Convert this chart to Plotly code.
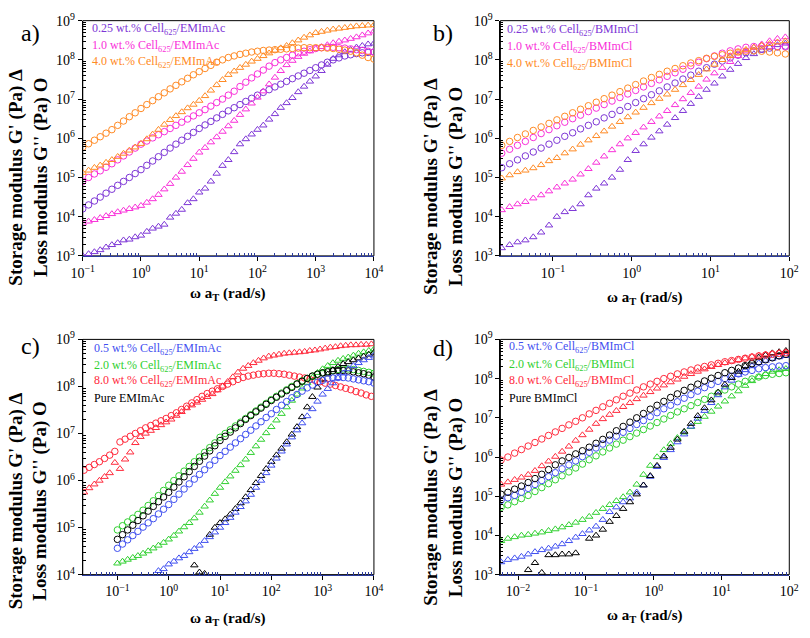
import plotly.graph_objects as go

# ---------------- data (log10 of frequency and modulus) ----------------
A_X = [-1.0,-0.9,-0.8,-0.7,-0.6,-0.5,-0.4,-0.3,-0.2,-0.1,0.0,0.1,0.2,0.3,0.4,0.5,0.6,0.7,0.8,0.9,1.0,1.1,1.2,1.3,1.4,1.5,1.6,1.7,1.8,1.9,2.0,2.1,2.2,2.3,2.4,2.5,2.6,2.7,2.8,2.9,3.0,3.1,3.2,3.3,3.4,3.5,3.6,3.7,3.8,3.9,4.0]
A_P025_GPP = [4.20,4.30,4.40,4.50,4.60,4.70,4.80,4.90,5.00,5.10,5.20,5.31,5.42,5.53,5.64,5.75,5.85,5.95,6.05,6.15,6.25,6.34,6.43,6.52,6.61,6.70,6.78,6.86,6.94,7.02,7.10,7.17,7.24,7.31,7.38,7.45,7.52,7.59,7.66,7.73,7.80,7.87,7.94,8.00,8.05,8.10,8.13,8.16,8.18,8.19,8.20]
A_P025_GP = [3.00,3.05,3.10,3.15,3.22,3.28,3.33,3.40,3.42,3.48,3.52,3.62,3.70,3.75,3.80,3.98,4.08,4.18,4.35,4.45,4.62,4.72,4.90,5.10,5.30,5.45,5.65,5.85,5.98,6.10,6.22,6.33,6.48,6.62,6.78,6.90,7.03,7.18,7.32,7.45,7.58,7.72,7.88,8.03,8.12,8.20,8.26,8.32,8.36,8.40,8.42]
A_P10_GPP = [4.90,5.00,5.09,5.17,5.26,5.35,5.45,5.55,5.65,5.75,5.85,5.93,6.01,6.09,6.17,6.25,6.33,6.41,6.49,6.57,6.65,6.73,6.82,6.91,7.00,7.10,7.20,7.32,7.43,7.54,7.64,7.74,7.84,7.93,8.00,8.06,8.12,8.18,8.22,8.26,8.29,8.31,8.32,8.32,8.31,8.30,8.28,8.26,8.24,8.22,8.20]
A_P10_GP = [3.83,3.88,3.92,3.97,4.02,4.07,4.12,4.16,4.20,4.24,4.28,4.36,4.45,4.56,4.70,4.84,5.00,5.15,5.32,5.48,5.64,5.76,5.90,6.03,6.17,6.31,6.45,6.60,6.74,6.89,7.04,7.20,7.38,7.55,7.72,7.87,7.98,8.08,8.16,8.22,8.28,8.33,8.38,8.43,8.47,8.50,8.54,8.58,8.63,8.68,8.73]
A_P40_GPP = [5.77,5.86,5.95,6.04,6.13,6.22,6.33,6.44,6.55,6.65,6.76,6.86,6.96,7.06,7.16,7.26,7.35,7.44,7.53,7.62,7.70,7.78,7.86,7.94,8.00,8.06,8.10,8.14,8.17,8.20,8.22,8.24,8.25,8.26,8.27,8.28,8.29,8.30,8.31,8.31,8.31,8.31,8.30,8.29,8.27,8.25,8.22,8.18,8.12,8.06,8.02]
A_P40_GP = [5.12,5.18,5.25,5.31,5.38,5.45,5.53,5.61,5.69,5.77,5.86,5.98,6.10,6.22,6.35,6.47,6.57,6.67,6.77,6.86,6.96,7.08,7.22,7.36,7.49,7.62,7.71,7.80,7.88,7.96,8.03,8.10,8.17,8.24,8.30,8.36,8.43,8.50,8.57,8.63,8.69,8.72,8.75,8.78,8.80,8.82,8.84,8.86,8.87,8.88,8.89]

B_X = [-1.65,-1.55,-1.45,-1.35,-1.25,-1.15,-1.05,-0.95,-0.85,-0.75,-0.65,-0.55,-0.45,-0.35,-0.25,-0.15,-0.05,0.05,0.15,0.25,0.35,0.45,0.55,0.65,0.75,0.85,0.95,1.05,1.15,1.25,1.35,1.45,1.55,1.65,1.75,1.85,1.95]
B_P025_GPP = [5.25,5.35,5.45,5.55,5.65,5.75,5.85,5.95,6.05,6.14,6.24,6.33,6.42,6.52,6.61,6.71,6.81,6.91,7.01,7.11,7.21,7.31,7.41,7.51,7.61,7.71,7.80,7.89,7.97,8.05,8.12,8.18,8.23,8.27,8.30,8.33,8.35]
B_P025_GP = [3.20,3.28,3.35,3.40,3.48,3.60,3.78,4.00,4.12,4.20,4.32,4.55,4.72,4.85,5.00,5.20,5.45,5.68,5.85,6.02,6.18,6.35,6.52,6.70,6.88,7.06,7.24,7.40,7.58,7.75,7.90,8.05,8.15,8.24,8.32,8.38,8.42]
B_P10_GPP = [5.62,5.72,5.82,5.92,6.02,6.12,6.22,6.32,6.41,6.50,6.59,6.68,6.77,6.86,6.95,7.04,7.13,7.22,7.31,7.40,7.49,7.58,7.67,7.76,7.85,7.94,8.03,8.10,8.17,8.23,8.28,8.32,8.34,8.35,8.35,8.34,8.33]
B_P10_GP = [4.17,4.25,4.32,4.38,4.47,4.55,4.65,4.75,4.85,4.95,5.08,5.22,5.38,5.54,5.70,5.85,6.00,6.14,6.28,6.42,6.56,6.70,6.85,7.00,7.16,7.32,7.50,7.66,7.80,7.95,8.10,8.22,8.32,8.40,8.48,8.54,8.58]
B_P40_GPP = [5.82,5.92,6.02,6.11,6.20,6.29,6.38,6.47,6.56,6.65,6.74,6.83,6.92,7.01,7.10,7.19,7.28,7.37,7.46,7.55,7.63,7.71,7.78,7.85,7.92,7.98,8.04,8.09,8.13,8.17,8.20,8.22,8.23,8.22,8.20,8.18,8.15]
B_P40_GP = [4.98,5.06,5.14,5.18,5.24,5.32,5.42,5.50,5.62,5.72,5.84,5.95,6.06,6.18,6.30,6.42,6.54,6.66,6.78,6.90,7.01,7.12,7.24,7.36,7.49,7.62,7.76,7.88,8.00,8.10,8.19,8.26,8.32,8.37,8.41,8.45,8.48]

C_X_RED = [-1.65,-1.55,-1.45,-1.35,-1.25,-1.15,-1.05,-0.95,-0.85,-0.75,-0.65,-0.55,-0.45,-0.35,-0.25,-0.15,-0.05,0.05,0.15,0.25,0.35,0.45,0.55,0.65,0.75,0.85,0.95,1.05,1.15,1.25,1.35,1.45,1.55,1.65,1.75,1.85,1.95,2.05,2.15,2.25,2.35,2.45,2.55,2.65,2.75,2.85,2.95,3.05,3.15,3.25,3.35,3.45,3.55,3.65,3.75,3.85,3.95]
C_P80_GPP = [6.22,6.28,6.34,6.40,6.47,6.54,6.62,6.82,6.88,6.94,7.00,7.06,7.12,7.17,7.22,7.27,7.32,7.38,7.44,7.51,7.58,7.65,7.72,7.79,7.85,7.90,7.95,8.00,8.05,8.10,8.15,8.19,8.22,8.24,8.26,8.27,8.28,8.28,8.27,8.26,8.24,8.22,8.20,8.18,8.15,8.13,8.10,8.07,8.05,8.02,7.99,7.96,7.93,7.89,7.86,7.82,7.79]
C_P80_GP = [5.75,5.84,5.92,6.00,6.08,6.16,6.38,6.25,6.45,6.60,6.80,6.93,7.00,7.06,7.12,7.18,7.24,7.30,7.38,7.46,7.54,7.60,7.66,7.72,7.78,7.84,7.92,8.00,8.10,8.20,8.30,8.38,8.44,8.50,8.55,8.60,8.64,8.66,8.68,8.70,8.71,8.72,8.73,8.74,8.76,8.77,8.79,8.81,8.83,8.84,8.86,8.87,8.88,8.88,8.89,8.89,8.90]
C_X = [-1.0,-0.9,-0.8,-0.7,-0.6,-0.5,-0.4,-0.3,-0.2,-0.1,0.0,0.1,0.2,0.3,0.4,0.5,0.6,0.7,0.8,0.9,1.0,1.1,1.2,1.3,1.4,1.5,1.6,1.7,1.8,1.9,2.0,2.1,2.2,2.3,2.4,2.5,2.6,2.7,2.8,2.9,3.0,3.1,3.2,3.3,3.4,3.5,3.6,3.7,3.8,3.9,4.0]
C_P20_GPP = [4.95,5.04,5.12,5.20,5.28,5.37,5.47,5.57,5.68,5.79,5.90,6.00,6.10,6.20,6.30,6.40,6.50,6.60,6.70,6.80,6.92,7.00,7.08,7.16,7.24,7.32,7.40,7.48,7.56,7.64,7.72,7.79,7.86,7.93,8.00,8.06,8.12,8.17,8.22,8.26,8.29,8.32,8.34,8.36,8.37,8.37,8.36,8.34,8.32,8.30,8.28]
C_P20_GP = [4.24,4.28,4.32,4.36,4.40,4.45,4.50,4.56,4.62,4.68,4.75,4.83,4.92,5.01,5.10,5.20,5.32,5.45,5.58,5.72,5.85,5.97,6.09,6.21,6.33,6.45,6.59,6.73,6.87,7.01,7.14,7.28,7.42,7.56,7.70,7.83,7.96,8.08,8.19,8.29,8.37,8.44,8.50,8.55,8.59,8.62,8.66,8.70,8.73,8.76,8.79]
C_PURE_GPP = [4.75,4.85,4.95,5.05,5.15,5.25,5.35,5.45,5.55,5.65,5.75,5.86,5.97,6.08,6.19,6.30,6.41,6.52,6.63,6.74,6.85,6.94,7.03,7.12,7.21,7.30,7.38,7.46,7.54,7.62,7.70,7.77,7.84,7.91,7.98,8.05,8.11,8.17,8.22,8.26,8.29,8.31,8.33,8.34,8.34,8.33,8.31,8.29,8.27,8.24,8.20]
C_PURE_GP = [None,None,None,None,None,None,None,None,None,None,None,None,None,None,None,4.20,4.05,4.02,4.85,5.00,5.10,5.18,5.28,5.40,5.52,5.65,5.80,5.95,6.10,6.25,6.40,6.54,6.68,6.82,6.98,7.14,7.35,7.56,7.78,7.98,8.15,8.26,8.35,8.42,8.48,8.52,8.56,8.60,8.64,8.68,8.72]
C_P05_GPP = [4.56,4.65,4.74,4.83,4.92,5.01,5.10,5.19,5.29,5.39,5.49,5.60,5.71,5.82,5.93,6.03,6.13,6.23,6.33,6.43,6.53,6.62,6.71,6.80,6.89,6.98,7.07,7.16,7.25,7.34,7.42,7.51,7.60,7.68,7.76,7.83,7.90,7.97,8.03,8.09,8.13,8.16,8.18,8.19,8.19,8.18,8.16,8.14,8.12,8.10,8.07]
C_P05_GP = [None,None,None,None,None,None,None,None,4.08,4.12,4.22,4.28,4.35,4.40,4.48,4.55,4.62,4.72,4.80,4.90,5.00,5.10,5.21,5.32,5.44,5.56,5.70,5.85,6.00,6.16,6.32,6.47,6.62,6.77,6.92,7.07,7.22,7.37,7.52,7.68,7.83,7.95,8.07,8.18,8.28,8.37,8.44,8.50,8.56,8.61,8.66]

D_X = [-2.25,-2.15,-2.05,-1.95,-1.85,-1.75,-1.65,-1.55,-1.45,-1.35,-1.25,-1.15,-1.05,-0.95,-0.85,-0.75,-0.65,-0.55,-0.45,-0.35,-0.25,-0.15,-0.05,0.05,0.15,0.25,0.35,0.45,0.55,0.65,0.75,0.85,0.95,1.05,1.15,1.25,1.35,1.45,1.55,1.65,1.75,1.85,1.95]
D_P80_GPP = [5.92,6.00,6.10,6.19,6.28,6.37,6.46,6.55,6.64,6.73,6.82,6.91,7.00,7.10,7.19,7.28,7.37,7.46,7.55,7.63,7.71,7.79,7.86,7.93,8.00,8.06,8.12,8.17,8.22,8.27,8.31,8.35,8.39,8.43,8.46,8.49,8.52,8.55,8.58,8.60,8.62,8.64,8.66]
D_P80_GP = [5.30,5.36,5.42,5.48,5.55,5.65,5.77,5.89,6.01,6.14,6.27,6.42,6.56,6.70,6.85,6.97,7.08,7.18,7.28,7.38,7.48,7.57,7.66,7.75,7.83,7.91,7.98,8.05,8.12,8.18,8.24,8.30,8.35,8.40,8.44,8.48,8.52,8.56,8.59,8.62,8.64,8.66,8.68]
D_PURE_GPP = [5.05,5.10,5.18,5.26,5.35,5.45,5.56,5.68,5.80,5.90,5.99,6.08,6.16,6.25,6.35,6.45,6.56,6.67,6.78,6.89,7.00,7.11,7.22,7.32,7.42,7.52,7.61,7.70,7.78,7.86,7.94,8.01,8.08,8.15,8.21,8.27,8.33,8.38,8.43,8.48,8.53,8.58,8.62]
D_PURE_GP = [None,None,None,None,3.12,3.30,3.05,3.50,3.50,3.52,3.52,3.55,None,3.92,4.00,4.15,4.35,4.50,4.68,4.85,5.05,5.28,5.52,5.78,6.02,6.24,6.45,6.65,6.85,7.05,7.25,7.45,7.65,7.85,8.02,8.18,8.32,8.44,8.54,8.60,8.65,8.68,8.71]
D_P05_GPP = [4.90,4.96,5.02,5.10,5.20,5.30,5.40,5.50,5.60,5.70,5.80,5.90,6.01,6.12,6.23,6.33,6.43,6.53,6.63,6.73,6.83,6.93,7.03,7.13,7.23,7.32,7.41,7.50,7.59,7.68,7.77,7.85,7.93,8.00,8.06,8.12,8.17,8.21,8.25,8.28,8.30,8.32,8.33]
D_P05_GP = [3.32,3.38,3.42,3.46,3.52,3.58,3.63,3.67,3.72,3.78,3.86,3.95,4.04,4.13,4.23,4.40,4.60,4.72,4.85,4.95,5.10,5.28,5.50,5.75,5.98,6.18,6.38,6.58,6.78,6.98,7.18,7.38,7.58,7.78,7.95,8.10,8.22,8.32,8.40,8.46,8.51,8.55,8.58]
D_P20_GPP = [4.72,4.78,4.86,4.94,5.02,5.12,5.22,5.32,5.42,5.52,5.62,5.72,5.82,5.93,6.03,6.13,6.23,6.33,6.43,6.52,6.61,6.70,6.79,6.88,6.97,7.06,7.15,7.23,7.31,7.39,7.47,7.55,7.63,7.71,7.79,7.86,7.93,7.99,8.04,8.08,8.11,8.13,8.15]
D_P20_GP = [3.86,3.92,3.96,4.00,4.02,4.05,4.08,4.12,4.16,4.21,4.27,4.33,4.40,4.48,4.58,4.68,4.78,4.88,4.98,5.10,5.30,5.55,5.78,6.00,6.18,6.34,6.49,6.63,6.77,6.90,7.03,7.16,7.29,7.42,7.55,7.68,7.82,7.94,8.04,8.12,8.18,8.22,8.25]

# tick label exponents
A_XTICKS = [-1, 0, 1, 2, 3, 4]
B_XTICKS = [-1, 0, 1, 2]
C_XTICKS = [-1, 0, 1, 2, 3, 4]
D_XTICKS = [-2, -1, 0, 1, 2]
AB_YTICKS = [3, 4, 5, 6, 7, 8, 9]
C_YTICKS = [4, 5, 6, 7, 8, 9]

LEG_A = ["0.25 wt.% Cell<sub>625</sub>/EMImAc", "1.0 wt.% Cell<sub>625</sub>/EMImAc", "4.0 wt.% Cell<sub>625</sub>/EMImAc"]
LEG_B = ["0.25 wt.% Cell<sub>625</sub>/BMImCl", "1.0 wt.% Cell<sub>625</sub>/BMImCl", "4.0 wt.% Cell<sub>625</sub>/BMImCl"]
LEG_C = ["0.5 wt.% Cell<sub>625</sub>/EMImAc", "2.0 wt.% Cell<sub>625</sub>/EMImAc", "8.0 wt.% Cell<sub>625</sub>/EMImAc", "Pure EMImAc"]
LEG_D = ["0.5 wt.% Cell<sub>625</sub>/BMImCl", "2.0 wt.% Cell<sub>625</sub>/BMImCl", "8.0 wt.% Cell<sub>625</sub>/BMImCl", "Pure BMImCl"]

# ---------------- styling ----------------
PURPLE = "#7d35d6"
MAGENTA = "#f92fd9"
ORANGE = "#ff8a24"
BLUE = "#3f4ff0"
GREEN = "#2fd02f"
RED = "#ff2a3c"
BLACK = "#000000"
NAVY = "#2c3c9c"
FONT = "Liberation Serif, Times New Roman, serif"

fig = go.Figure()


def add(idx, xs, ys, color, symbol):
    sfx = "" if idx == 1 else str(idx)
    pts = [(10 ** a, 10 ** b) for a, b in zip(xs, ys) if b is not None]
    fig.add_trace(go.Scatter(
        x=[p[0] for p in pts], y=[p[1] for p in pts], mode="markers",
        xaxis="x" + sfx, yaxis="y" + sfx, showlegend=False, hoverinfo="skip",
        marker=dict(symbol=symbol, size=6.5, color=color,
                    line=dict(color=color, width=1)),
    ))

C_O = "circle-open"
T_O = "triangle-up-open"

# panel a
add(1, A_X, A_P025_GP, PURPLE, T_O)
add(1, A_X, A_P025_GPP, PURPLE, C_O)
add(1, A_X, A_P10_GP, MAGENTA, T_O)
add(1, A_X, A_P10_GPP, MAGENTA, C_O)
add(1, A_X, A_P40_GP, ORANGE, T_O)
add(1, A_X, A_P40_GPP, ORANGE, C_O)
# panel b
add(2, B_X, B_P025_GP, PURPLE, T_O)
add(2, B_X, B_P025_GPP, PURPLE, C_O)
add(2, B_X, B_P10_GP, MAGENTA, T_O)
add(2, B_X, B_P10_GPP, MAGENTA, C_O)
add(2, B_X, B_P40_GP, ORANGE, T_O)
add(2, B_X, B_P40_GPP, ORANGE, C_O)
# panel c
add(3, C_X_RED, C_P80_GP, RED, T_O)
add(3, C_X_RED, C_P80_GPP, RED, C_O)
add(3, C_X, C_P20_GP, GREEN, T_O)
add(3, C_X, C_P20_GPP, GREEN, C_O)
add(3, C_X, C_PURE_GP, BLACK, T_O)
add(3, C_X, C_PURE_GPP, BLACK, C_O)
add(3, C_X, C_P05_GP, BLUE, T_O)
add(3, C_X, C_P05_GPP, BLUE, C_O)
# panel d
add(4, D_X, D_P20_GP, GREEN, T_O)
add(4, D_X, D_P20_GPP, GREEN, C_O)
add(4, D_X, D_P05_GP, BLUE, T_O)
add(4, D_X, D_P05_GPP, BLUE, C_O)
add(4, D_X, D_PURE_GP, BLACK, T_O)
add(4, D_X, D_PURE_GPP, BLACK, C_O)
add(4, D_X, D_P80_GP, RED, T_O)
add(4, D_X, D_P80_GPP, RED, C_O)


def label(p):
    if p < 0:
        return "10<sup>\u2212%d</sup>" % (-p)
    return "10<sup>%d</sup>" % p


def minors(lo, hi):
    out = []
    for n in range(int(lo) - 1, int(hi) + 1):
        for k in range(2, 10):
            v = k * 10 ** n
            if 10 ** lo <= v <= 10 ** hi:
                out.append(v)
    return out


def axis(rng, ticks, domain, anchor, navy=False):
    col = NAVY if navy else "black"
    return dict(
        type="log", range=rng, domain=domain, anchor=anchor,
        tickmode="array", tickvals=[10 ** t for t in ticks],
        ticktext=[label(t) for t in ticks], ticklabeloverflow="allow",
        ticks="outside", ticklen=4, tickwidth=1, tickcolor="black",
        showline=True, linecolor=col, linewidth=1,
        showgrid=False, zeroline=False,
        tickfont=dict(family=FONT, size=14, color="black"),
        minor=dict(tickmode="array", tickvals=minors(*rng), ticks="inside",
                   ticklen=3, tickcolor=col, showgrid=False),
    )

XA = [0.0898, 0.4593]
XB = [0.6198, 0.9864]
YT = [0.6034, 0.9828]
YB = [0.0893, 0.4687]

fig.update_layout(
    width=810, height=638, autosize=False,
    margin=dict(l=0, r=0, t=0, b=0),
    paper_bgcolor="white", plot_bgcolor="white",
    xaxis=axis([-1, 4], A_XTICKS, XA, "y", True),
    yaxis=axis([3, 9], AB_YTICKS, YT, "x"),
    xaxis2=axis([-1.667, 2], B_XTICKS, XB, "y2", True),
    yaxis2=axis([3, 9], AB_YTICKS, YT, "x2"),
    xaxis3=axis([-1.675, 4], C_XTICKS, XA, "y3", True),
    yaxis3=axis([4, 9], C_YTICKS, YB, "x3"),
    xaxis4=axis([-2.26, 2], D_XTICKS, XB, "y4", True),
    yaxis4=axis([3, 9], AB_YTICKS, YB, "x4"),
)

shapes = []
for sfx in ["", "2", "3", "4"]:
    shapes.append(dict(type="rect", xref="x%s domain" % sfx, yref="y%s domain" % sfx,
                       x0=0, x1=1, y0=0, y1=1, line=dict(color="black", width=1),
                       layer="below"))
fig.update_layout(shapes=shapes)

ann = []


def txt(x, y, t, color="black", size=12, bold=False, angle=0, xanchor="left"):
    if bold:
        t = "<b>" + t + "</b>"
    ann.append(dict(x=x / 810, y=1 - y / 638, xref="paper", yref="paper", text=t,
                    showarrow=False, xanchor=xanchor, yanchor="middle", textangle=angle,
                    font=dict(family=FONT, size=size, color=color)))

# legends
for t, c, y in zip(LEG_A, [PURPLE, MAGENTA, ORANGE], [20, 37, 54]):
    txt(80, y, t, c)
for t, c, y in zip(LEG_B, [PURPLE, MAGENTA, ORANGE], [21, 38, 56]):
    txt(507, y, t, c)
for t, c, y in zip(LEG_C, [BLUE, GREEN, RED, BLACK], [349, 366, 382, 399]):
    txt(82, y, t, c)
for t, c, y in zip(LEG_D, [BLUE, GREEN, RED, BLACK], [347, 365, 382, 399]):
    txt(509, y, t, c)

# panel letters
for t, x, y in [("a)", 19, 24), ("b)", 443, 24), ("c)", 19, 346), ("d)", 443, 348)]:
    txt(x, y, t, size=24, xanchor="center")

YTITLE = "Storage modulus G' (Pa) \u0394<br>Loss modulus G'' (Pa) O"
XTITLE = "\u03c9 a<sub>T</sub> (rad/s)"
for x, y in [(17, 172), (444, 181), (17, 505), (444, 501)]:
    txt(x, y, YTITLE, size=19, bold=True, angle=-90, xanchor="center")
for x, y in [(222, 292), (650, 296), (222, 627), (650, 624)]:
    txt(x, y, XTITLE, size=15, bold=True, xanchor="center")

fig.update_layout(annotations=ann)
fig.write_html(
    "out.html",
    config={"displayModeBar": False},
    post_script="document.body.style.margin='0';document.body.style.overflow='hidden';",
)
